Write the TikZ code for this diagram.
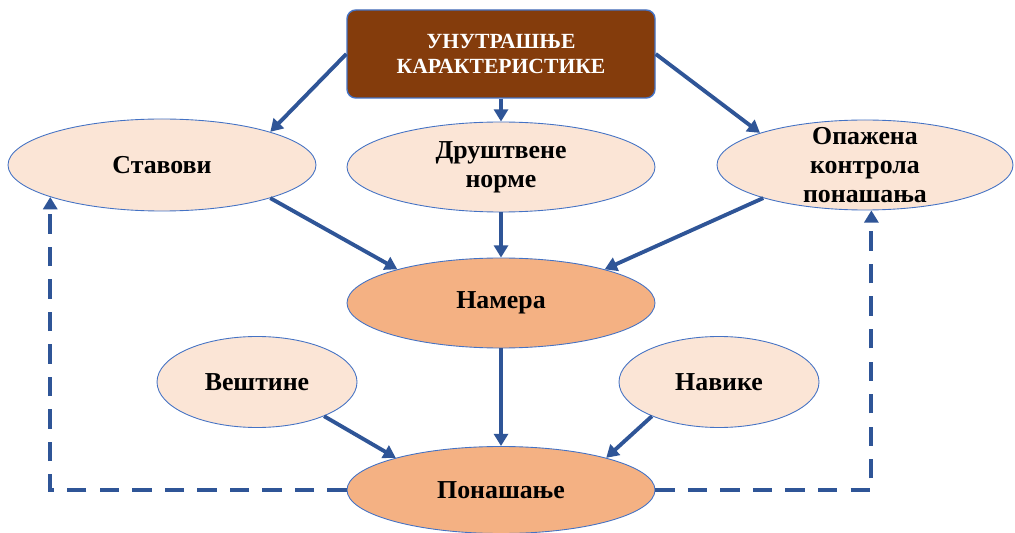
\documentclass[tikz,border=0pt]{standalone}
\usepackage{fontspec}
\setmainfont{Liberation Serif}[BoldFont={Liberation Serif Bold}]
\usepackage{tikz}
\usetikzlibrary{shapes.geometric, arrows.meta}

\definecolor{arrowblue}{RGB}{47,85,151}
\definecolor{edgeblue}{RGB}{68,114,196}
\definecolor{boxbrown}{RGB}{132,60,12}
\definecolor{lightpeach}{RGB}{251,229,214}
\definecolor{darkpeach}{RGB}{244,177,131}

\begin{document}
\begin{tikzpicture}[>={Triangle[length=7pt, width=8pt]}]

    % styles
    \tikzstyle{top box} = [rectangle, rounded corners=5pt, draw=edgeblue, line width=0.8pt,
        fill=boxbrown, text=white, font=\fontsize{12.3}{14}\selectfont\bfseries,
        align=center, minimum width=6.16cm, minimum height=1.76cm];
    \tikzstyle{light node} = [ellipse, draw=edgeblue, line width=0.5pt, fill=lightpeach,
        font=\fontsize{14.7}{16.5}\selectfont\bfseries, align=center, inner sep=0pt];
    \tikzstyle{dark node} = [light node, fill=darkpeach];
    \tikzstyle{link} = [->, draw=arrowblue, line width=2.2pt];
    \tikzstyle{back link} = [link, dash pattern=on 11pt off 7.5pt];

    \useasboundingbox (0,0) rectangle (20.3,-10.66);

    % nodes
    \node[top box] (UK) at (10.02,-1.08) {УНУТРАШЊЕ\\КАРАКТЕРИСТИКЕ};
    \node[light node, minimum width=6.16cm, minimum height=1.84cm] (SV) at (3.24,-3.30) {Ставови};
    \node[light node, minimum width=6.16cm, minimum height=1.80cm] (DN) at (10.02,-3.34) {Друштвене\\норме};
    \node[light node, minimum width=5.92cm, minimum height=1.80cm, inner ysep=-7pt] (OK) at (17.30,-3.30)
        {Опажена\\контрола\\понашања};
    \node[dark node, minimum width=6.16cm, minimum height=1.80cm] (NM) at (10.02,-6.06) {Намера};
    \node[light node, minimum width=4.0cm, minimum height=1.82cm] (VS) at (5.14,-7.64) {Вештине};
    \node[light node, minimum width=4.0cm, minimum height=1.82cm] (NV) at (14.38,-7.64) {Навике};
    \node[dark node, minimum width=6.16cm, minimum height=1.74cm] (PN) at (10.02,-9.80) {Понашање};

    % arrows from the top box
    \draw [link] (UK.west) -- (SV.17);
    \draw [link] (UK.south) -- (DN.north);
    \draw [link] (UK.east) -- (OK.163);

    % arrows to the intention
    \draw [link] (SV.-17) -- (NM.162);
    \draw [link] (DN.south) -- (NM.north);
    \draw [link] (OK.198) -- (NM.18);

    % arrows to the behaviour
    \draw [link] (NM.south) -- (PN.north);
    \draw [link] (VS.-27) -- (PN.163);
    \draw [link] (NV.207) -- (PN.17);

    % feedback
    \draw [back link] (PN.west) -| (SV.196);
    \draw [back link] (PN.east) -| (OK.-82);

\end{tikzpicture}
\end{document}
